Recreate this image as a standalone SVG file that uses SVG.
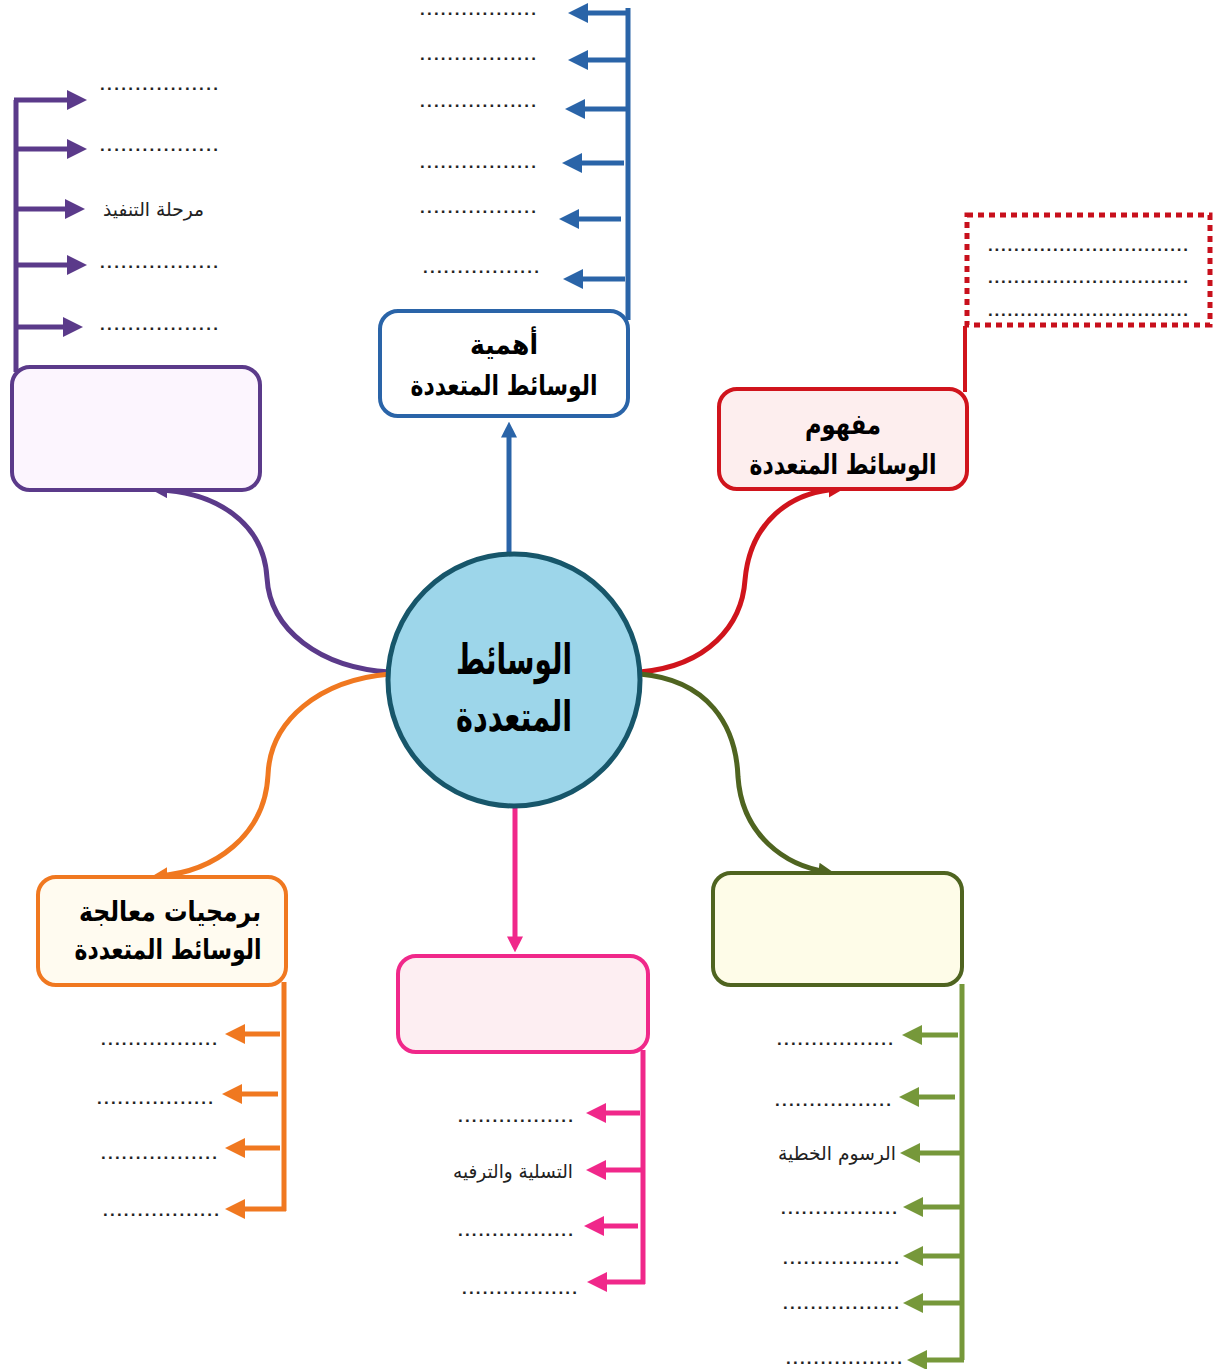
<svg xmlns="http://www.w3.org/2000/svg" width="1216" height="1369" viewBox="0 0 1216 1369">
<style>
.h{font-family:"DejaVu Sans",sans-serif;font-weight:bold;fill:#000;text-anchor:middle}
.d{font-family:"Liberation Sans",sans-serif;font-size:17px;font-weight:bold;fill:#222}
.lbl{font-family:"DejaVu Sans",sans-serif;font-size:19px;fill:#222;text-anchor:end}
.ln{fill:none;stroke-width:5}
.cv{fill:none;stroke-width:5}
</style>
<defs>
<marker id="aBlue" viewBox="0 0 10 10" refX="2" refY="5" markerWidth="20" markerHeight="20" markerUnits="userSpaceOnUse" orient="auto"><path d="M0,0 L10,5 L0,10 z" fill="#2a64a8"/></marker>
<marker id="aPur" viewBox="0 0 10 10" refX="2" refY="5" markerWidth="20" markerHeight="20" markerUnits="userSpaceOnUse" orient="auto"><path d="M0,0 L10,5 L0,10 z" fill="#5b3a8a"/></marker>
<marker id="aOr" viewBox="0 0 10 10" refX="2" refY="5" markerWidth="20" markerHeight="20" markerUnits="userSpaceOnUse" orient="auto"><path d="M0,0 L10,5 L0,10 z" fill="#f07820"/></marker>
<marker id="aPk" viewBox="0 0 10 10" refX="2" refY="5" markerWidth="20" markerHeight="20" markerUnits="userSpaceOnUse" orient="auto"><path d="M0,0 L10,5 L0,10 z" fill="#f0288a"/></marker>
<marker id="aGr" viewBox="0 0 10 10" refX="2" refY="5" markerWidth="20" markerHeight="20" markerUnits="userSpaceOnUse" orient="auto"><path d="M0,0 L10,5 L0,10 z" fill="#76983a"/></marker>
<marker id="sPur" viewBox="0 0 10 10" refX="6" refY="5" markerWidth="16" markerHeight="16" markerUnits="userSpaceOnUse" orient="auto"><path d="M0,0 L10,5 L0,10 z" fill="#5b3a8a"/></marker>
<marker id="sRed" viewBox="0 0 10 10" refX="6" refY="5" markerWidth="16" markerHeight="16" markerUnits="userSpaceOnUse" orient="auto"><path d="M0,0 L10,5 L0,10 z" fill="#d0141c"/></marker>
<marker id="sGr" viewBox="0 0 10 10" refX="6" refY="5" markerWidth="16" markerHeight="16" markerUnits="userSpaceOnUse" orient="auto"><path d="M0,0 L10,5 L0,10 z" fill="#4f6420"/></marker>
<marker id="sOr" viewBox="0 0 10 10" refX="6" refY="5" markerWidth="16" markerHeight="16" markerUnits="userSpaceOnUse" orient="auto"><path d="M0,0 L10,5 L0,10 z" fill="#f07820"/></marker>
<marker id="sBl" viewBox="0 0 10 10" refX="6" refY="5" markerWidth="16" markerHeight="16" markerUnits="userSpaceOnUse" orient="auto"><path d="M0,0 L10,5 L0,10 z" fill="#2a64a8"/></marker>
<marker id="sPk" viewBox="0 0 10 10" refX="6" refY="5" markerWidth="16" markerHeight="16" markerUnits="userSpaceOnUse" orient="auto"><path d="M0,0 L10,5 L0,10 z" fill="#f0288a"/></marker>
</defs>
<rect width="1216" height="1369" fill="#ffffff"/>

<g id="connectors">
  <path class="cv" stroke="#5b3a8a" d="M390 672 C 320 668, 270 630, 267 578 C 264 522, 215 492, 158 490" marker-end="url(#sPur)"/>
  <path class="cv" stroke="#f07820" d="M390 674 C 320 680, 270 720, 268 775 C 265 835, 215 872, 158 876" marker-end="url(#sOr)"/>
  <path class="cv" stroke="#d0141c" d="M640 672 C 708 666, 742 625, 745 580 C 750 522, 790 492, 838 489" marker-end="url(#sRed)"/>
  <path class="cv" stroke="#4f6420" d="M640 674 C 708 680, 736 725, 738 777 C 742 835, 785 866, 828 872" marker-end="url(#sGr)"/>
  <line class="cv" stroke="#2a64a8" x1="509" y1="554" x2="509" y2="428" marker-end="url(#sBl)"/>
  <line class="cv" stroke="#f0288a" x1="515" y1="808" x2="515" y2="946" marker-end="url(#sPk)"/>

  <path class="ln" stroke="#2a64a8" d="M628 8 V320"/>
  <line class="ln" stroke="#2a64a8" x1="630" y1="13" x2="584" y2="13" marker-end="url(#aBlue)"/>
  <line class="ln" stroke="#2a64a8" x1="628" y1="60" x2="584" y2="60" marker-end="url(#aBlue)"/>
  <line class="ln" stroke="#2a64a8" x1="628" y1="109" x2="581" y2="109" marker-end="url(#aBlue)"/>
  <line class="ln" stroke="#2a64a8" x1="624" y1="163" x2="578" y2="163" marker-end="url(#aBlue)"/>
  <line class="ln" stroke="#2a64a8" x1="621" y1="219" x2="575" y2="219" marker-end="url(#aBlue)"/>
  <line class="ln" stroke="#2a64a8" x1="625" y1="279" x2="579" y2="279" marker-end="url(#aBlue)"/>

  <path class="ln" stroke="#5b3a8a" d="M16 372 V100"/>
  <line class="ln" stroke="#5b3a8a" x1="14" y1="100" x2="71" y2="100" marker-end="url(#aPur)"/>
  <line class="ln" stroke="#5b3a8a" x1="16" y1="149" x2="71" y2="149" marker-end="url(#aPur)"/>
  <line class="ln" stroke="#5b3a8a" x1="16" y1="209" x2="69" y2="209" marker-end="url(#aPur)"/>
  <line class="ln" stroke="#5b3a8a" x1="16" y1="265" x2="71" y2="265" marker-end="url(#aPur)"/>
  <line class="ln" stroke="#5b3a8a" x1="16" y1="327" x2="67" y2="327" marker-end="url(#aPur)"/>

  <line stroke="#d0141c" stroke-width="4" x1="965" y1="326" x2="965" y2="392"/>

  <path class="ln" stroke="#f07820" d="M284 982 V1211"/>
  <line class="ln" stroke="#f07820" x1="280" y1="1034" x2="241" y2="1034" marker-end="url(#aOr)"/>
  <line class="ln" stroke="#f07820" x1="278" y1="1094" x2="238" y2="1094" marker-end="url(#aOr)"/>
  <line class="ln" stroke="#f07820" x1="280" y1="1148" x2="241" y2="1148" marker-end="url(#aOr)"/>
  <line class="ln" stroke="#f07820" x1="286" y1="1209" x2="241" y2="1209" marker-end="url(#aOr)"/>

  <path class="ln" stroke="#f0288a" d="M643 1050 V1284"/>
  <line class="ln" stroke="#f0288a" x1="640" y1="1113" x2="602" y2="1113" marker-end="url(#aPk)"/>
  <line class="ln" stroke="#f0288a" x1="643" y1="1170" x2="602" y2="1170" marker-end="url(#aPk)"/>
  <line class="ln" stroke="#f0288a" x1="638" y1="1226" x2="600" y2="1226" marker-end="url(#aPk)"/>
  <line class="ln" stroke="#f0288a" x1="645" y1="1282" x2="603" y2="1282" marker-end="url(#aPk)"/>

  <path class="ln" stroke="#76983a" d="M962 984 V1360"/>
  <line class="ln" stroke="#76983a" x1="958" y1="1035" x2="918" y2="1035" marker-end="url(#aGr)"/>
  <line class="ln" stroke="#76983a" x1="955" y1="1097" x2="915" y2="1097" marker-end="url(#aGr)"/>
  <line class="ln" stroke="#76983a" x1="962" y1="1153" x2="916" y2="1153" marker-end="url(#aGr)"/>
  <line class="ln" stroke="#76983a" x1="962" y1="1207" x2="919" y2="1207" marker-end="url(#aGr)"/>
  <line class="ln" stroke="#76983a" x1="962" y1="1256" x2="919" y2="1256" marker-end="url(#aGr)"/>
  <line class="ln" stroke="#76983a" x1="962" y1="1303" x2="919" y2="1303" marker-end="url(#aGr)"/>
  <line class="ln" stroke="#76983a" x1="964" y1="1360" x2="923" y2="1360" marker-end="url(#aGr)"/>
</g>

<g id="center">
  <circle cx="514" cy="680" r="126" fill="#9dd6ea" stroke="#17566a" stroke-width="5"/>
  <text class="h" x="514" y="674" font-size="42" textLength="116" lengthAdjust="spacingAndGlyphs">الوسائط</text>
  <text class="h" x="514" y="731" font-size="42" textLength="116" lengthAdjust="spacingAndGlyphs">المتعددة</text>
</g>

<g id="node-importance">
  <rect x="380" y="311" width="248" height="105" rx="18" fill="#ffffff" stroke="#2a64a8" stroke-width="4"/>
  <text class="h" x="504" y="354" font-size="28" textLength="68" lengthAdjust="spacingAndGlyphs">أهمية</text>
  <text class="h" x="504" y="395" font-size="28" textLength="187" lengthAdjust="spacingAndGlyphs">الوسائط المتعددة</text>
</g>
<g id="node-importance-items">
  <text class="d" x="420" y="15" textLength="116" lengthAdjust="spacing">.................</text>
  <text class="d" x="420" y="60" textLength="116" lengthAdjust="spacing">.................</text>
  <text class="d" x="420" y="107" textLength="116" lengthAdjust="spacing">.................</text>
  <text class="d" x="420" y="168" textLength="116" lengthAdjust="spacing">.................</text>
  <text class="d" x="420" y="213" textLength="116" lengthAdjust="spacing">.................</text>
  <text class="d" x="423" y="273" textLength="116" lengthAdjust="spacing">.................</text>
</g>

<g id="node-concept">
  <rect x="719" y="389" width="248" height="100" rx="18" fill="#fdeeee" stroke="#d0141c" stroke-width="4"/>
  <text class="h" x="843" y="434" font-size="28" textLength="76" lengthAdjust="spacingAndGlyphs">مفهوم</text>
  <text class="h" x="843" y="474" font-size="28" textLength="187" lengthAdjust="spacingAndGlyphs">الوسائط المتعددة</text>
</g>
<g id="node-concept-def">
  <rect x="967" y="215" width="243" height="110" fill="none" stroke="#c8101c" stroke-width="5" stroke-dasharray="6 5"/>
  <text class="d" x="988" y="251" textLength="200" lengthAdjust="spacing">...............................</text>
  <text class="d" x="988" y="283" textLength="200" lengthAdjust="spacing">...............................</text>
  <text class="d" x="988" y="316" textLength="200" lengthAdjust="spacing">...............................</text>
</g>

<g id="node-stages">
  <rect x="12" y="367" width="248" height="123" rx="18" fill="#fcf5fe" stroke="#5b3a8a" stroke-width="4"/>
  <text class="d" x="100" y="90" textLength="118" lengthAdjust="spacing">.................</text>
  <text class="d" x="100" y="151" textLength="118" lengthAdjust="spacing">.................</text>
  <text class="lbl" x="204" y="216" textLength="101" lengthAdjust="spacingAndGlyphs">مرحلة التنفيذ</text>
  <text class="d" x="100" y="268" textLength="118" lengthAdjust="spacing">.................</text>
  <text class="d" x="100" y="330" textLength="118" lengthAdjust="spacing">.................</text>
</g>

<g id="node-software">
  <rect x="38" y="877" width="248" height="108" rx="18" fill="#fffbf0" stroke="#f07820" stroke-width="4"/>
  <text class="h" x="170" y="921" font-size="28" textLength="182" lengthAdjust="spacingAndGlyphs">برمجيات معالجة</text>
  <text class="h" x="168" y="959" font-size="28" textLength="187" lengthAdjust="spacingAndGlyphs">الوسائط المتعددة</text>
  <text class="d" x="101" y="1045" textLength="116" lengthAdjust="spacing">.................</text>
  <text class="d" x="97" y="1104" textLength="116" lengthAdjust="spacing">.................</text>
  <text class="d" x="101" y="1159" textLength="116" lengthAdjust="spacing">.................</text>
  <text class="d" x="103" y="1216" textLength="116" lengthAdjust="spacing">.................</text>
</g>

<g id="node-uses">
  <rect x="398" y="956" width="250" height="96" rx="18" fill="#fdeef2" stroke="#f0288a" stroke-width="4"/>
  <text class="d" x="458" y="1122" textLength="115" lengthAdjust="spacing">.................</text>
  <text class="lbl" x="573" y="1178" textLength="120" lengthAdjust="spacingAndGlyphs">التسلية والترفيه</text>
  <text class="d" x="458" y="1236" textLength="115" lengthAdjust="spacing">.................</text>
  <text class="d" x="462" y="1294" textLength="115" lengthAdjust="spacing">.................</text>
</g>

<g id="node-elements">
  <rect x="713" y="873" width="249" height="112" rx="18" fill="#fefce8" stroke="#4f6420" stroke-width="4"/>
  <text class="d" x="777" y="1045" textLength="116" lengthAdjust="spacing">.................</text>
  <text class="d" x="775" y="1106" textLength="116" lengthAdjust="spacing">.................</text>
  <text class="lbl" x="896" y="1160" textLength="118" lengthAdjust="spacingAndGlyphs">الرسوم الخطية</text>
  <text class="d" x="781" y="1214" textLength="116" lengthAdjust="spacing">.................</text>
  <text class="d" x="783" y="1264" textLength="116" lengthAdjust="spacing">.................</text>
  <text class="d" x="783" y="1309" textLength="116" lengthAdjust="spacing">.................</text>
  <text class="d" x="786" y="1364" textLength="116" lengthAdjust="spacing">.................</text>
</g>
</svg>
